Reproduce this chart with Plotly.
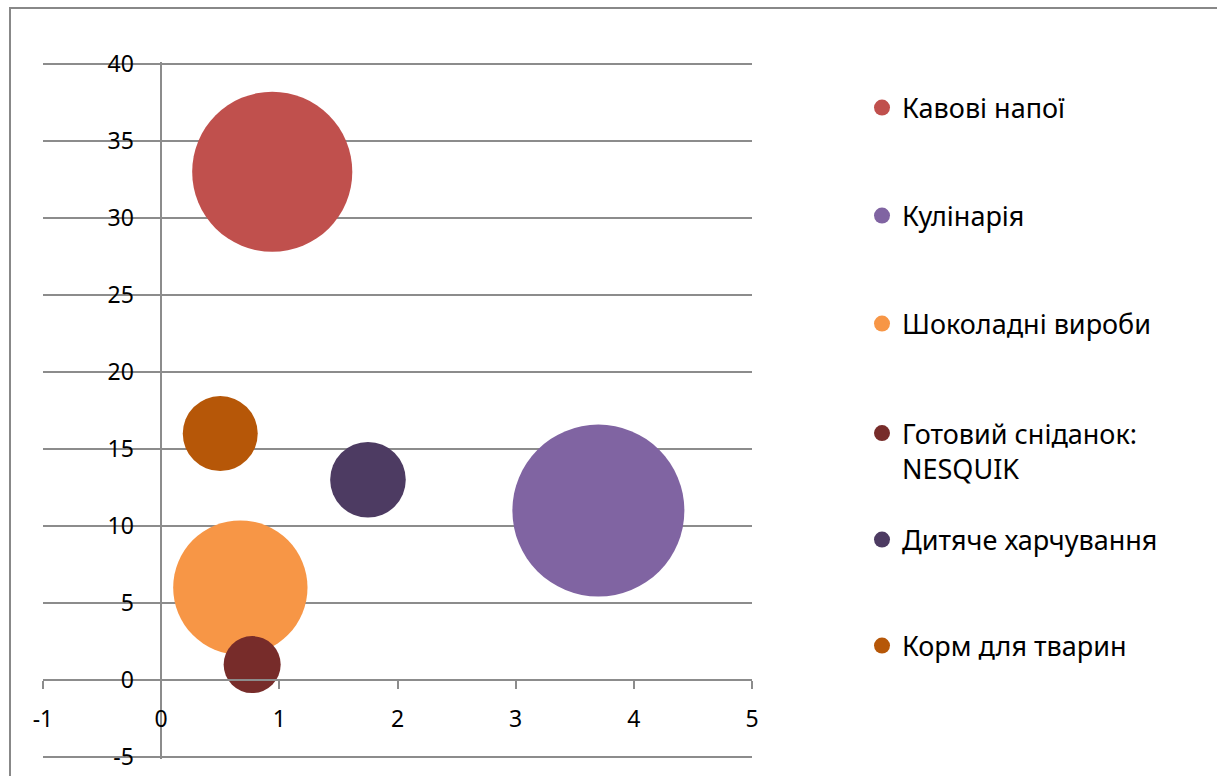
import plotly.graph_objects as go

# ---- data ----
names = ["Кавові напої", "Кулінарія", "Шоколадні вироби",
         "Готовий сніданок:<br>NESQUIK", "Дитяче харчування", "Корм для тварин"]
x_vals = [0.94, 3.70, 0.67, 0.77, 1.75, 0.50]
y_vals = [33, 11, 6, 1, 13, 16]
sizes = [260, 300, 183, 33, 58, 57]
colors = ["#C0504D", "#8064A2", "#F79646", "#772C2A", "#4D3B62", "#B65708"]
x_ticks = [-1, 0, 1, 2, 3, 4, 5]
y_ticks = [-5, 0, 5, 10, 15, 20, 25, 30, 35, 40]

W, H = 1217, 776
# pixel positions of the plot frame in the reference
X_LEFT, X_RIGHT = 43, 752     # x = -1 .. 5
Y_TOP, Y_BOT = 64, 757        # y = 40 .. -5
XR = [x_ticks[0], x_ticks[-1]]
YMIN, YMAX = y_ticks[0], y_ticks[-1]
upp = (YMAX - YMIN) / (Y_BOT - Y_TOP)   # units per pixel
YPAD = 2 * upp                           # keep edge grid lines inside the range
YR = [YMIN - YPAD, YMAX + YPAD]
MT = Y_TOP - 2
MB = H - (Y_BOT + 2)
ML, MR = X_LEFT, W - X_RIGHT
plot_h = H - MT - MB
plot_w = W - ML - MR

FONT = "Noto Sans"
GRID = "#8C8C8C"
MAX_D = 172
sizeref = 2.0 * max(sizes) / (MAX_D ** 2)

legend_pix = [108, 216, 324, 451, 540, 646]

fig = go.Figure()
for i, n in enumerate(names):
    lg = "legend" if i == 0 else f"legend{i+1}"
    fig.add_trace(go.Scatter(
        x=[x_vals[i]], y=[y_vals[i]], mode="markers", name=n,
        legend=lg,
        marker=dict(size=[sizes[i]], sizemode="area", sizeref=sizeref,
                    color=colors[i], line=dict(width=0), opacity=1),
        hoverinfo="name",
    ))

def py(pix):
    return (H - MB - pix) / plot_h

def px(pix):
    return (pix - ML) / plot_w

layout_legends = {}
for i, p in enumerate(legend_pix):
    key = "legend" if i == 0 else f"legend{i+1}"
    layout_legends[key] = dict(
        x=px(862), y=py(p), xanchor="left", yanchor="middle",
        font=dict(family=FONT, size=27, color="#000000"),
        bgcolor="rgba(0,0,0,0)", borderwidth=0, valign="top",
        itemwidth=30, itemsizing="trace",
    )

fig.update_layout(
    width=W, height=H,
    margin=dict(l=ML, r=MR, t=MT, b=MB, pad=0, autoexpand=False),
    paper_bgcolor="white", plot_bgcolor="white",
    showlegend=True,
    font=dict(family=FONT, size=23, color="#000000"),
    xaxis=dict(
        range=XR, tickvals=x_ticks, ticktext=[str(v) for v in x_ticks],
        showgrid=False, zeroline=False, automargin=False,
        showline=True, linecolor=GRID, linewidth=1.5,
        ticks="outside", ticklen=8, tickwidth=1.5, tickcolor=GRID,
        anchor="free", position=(0 - YR[0]) / (YR[1] - YR[0]),
        ticklabelstandoff=11,
        tickfont=dict(family=FONT, size=23, color="#000000"),
    ),
    yaxis=dict(
        range=YR, tickvals=y_ticks, ticktext=[str(v) for v in y_ticks],
        showgrid=True, gridcolor=GRID, gridwidth=1.5, automargin=False,
        zeroline=False, showline=True, linecolor=GRID, linewidth=1.5,
        ticks="outside", ticklen=8, tickwidth=1.5, tickcolor=GRID,
        anchor="free", position=(0 - XR[0]) / (XR[1] - XR[0]),
        ticklabelstandoff=14,
        tickfont=dict(family=FONT, size=23, color="#000000"),
    ),
    shapes=[dict(
        type="rect", xref="paper", yref="paper",
        x0=px(10), x1=px(W + 20), y0=py(H + 20), y1=py(8),
        line=dict(color="#888888", width=2), fillcolor="rgba(0,0,0,0)",
        layer="below",
    )],
    **layout_legends,
)

fig.write_html("out.html")
